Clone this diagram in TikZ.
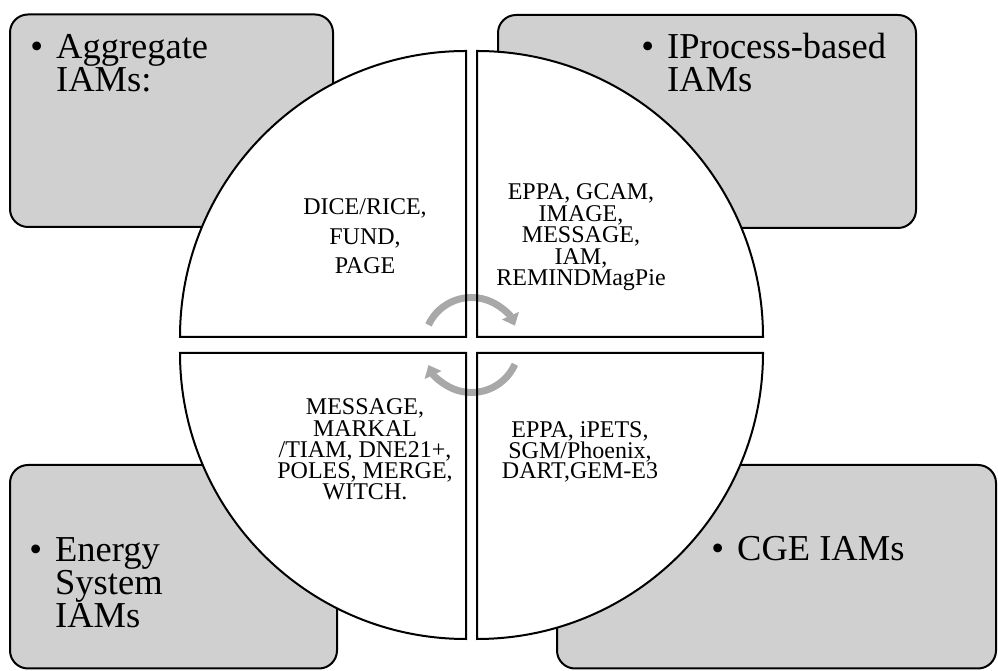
\documentclass[tikz,border=0pt]{standalone}
\usepackage{fontspec}
\setmainfont{Liberation Serif}
\usetikzlibrary{arrows.meta}
\definecolor{boxgray}{RGB}{208,208,208}
\definecolor{arrowgray}{RGB}{168,168,168}
\tikzset{
  catbox/.style={draw, line width=2pt, fill=boxgray, rounded corners=18pt},
  sliceline/.style={draw, line width=2pt, line join=miter},
  catlabel/.style={anchor=base west, align=left, inner sep=0pt, font=\fontsize{36.5}{33}\selectfont},
  modlist/.style={anchor=base, align=center, inner sep=0pt},
  cyclearrow/.style={draw=arrowgray, line width=7pt, -{Triangle[length=11pt,width=18pt]}}
}
\newcommand{\bul}{\textbullet\hspace{13pt}}
\begin{document}
\begin{tikzpicture}[x=1pt,y=1pt]
\useasboundingbox (0,0) rectangle (998,671);
% category boxes
\draw[catbox] (10,444) rectangle (333,656.5);
\draw[catbox] (498,443) rectangle (916,656);
\draw[catbox] (10,2.5) rectangle (337,206);
\draw[catbox] (557,2.5) rectangle (996,206);
% pie quarters
\coordinate (hub) at (471.5,326);
\coordinate (qa) at (466,334);
\coordinate (qb) at (477,334);
\coordinate (qc) at (466,318);
\coordinate (qd) at (477,318);
\foreach \c/\a in {qa/90, qb/0, qc/180, qd/270}
  \fill[white] (\c) -- ++(\a:286) arc[start angle=\a, delta angle=90, radius=286] -- cycle;
% cycle arrows
\draw[cyclearrow] (hub) ++(155:47.5) arc[start angle=155, end angle=24, radius=47.5];
\draw[cyclearrow] (hub) ++(-24:47.5) arc[start angle=-24, end angle=-155, radius=47.5];
\foreach \c/\a in {qa/90, qb/0, qc/180, qd/270}
  \draw[sliceline] (\c) -- ++(\a:286) arc[start angle=\a, delta angle=90, radius=286] -- cycle;
% labels (base = last line)
\node[catlabel] (agg) at (30.2,579) {\bul Aggregate\\\phantom{\bul}IAMs:};
\node[catlabel] (proc) at (641.2,579) {\bul IProcess-based\\\phantom{\bul}IAMs};
\node[catlabel] (ener) at (29.2,43) {\bul Energy\\\phantom{\bul}System\\\phantom{\bul}IAMs};
\node[catlabel] (cge) at (711.2,110) {\bul CGE IAMs};
\node[modlist, font=\fontsize{24}{29.5}\selectfont] (aggmods) at (365,397) {DICE/RICE,\\FUND,\\PAGE};
\node[modlist, font=\fontsize{24}{21.5}\selectfont] (procmods) at (581,385) {EPPA, GCAM,\\IMAGE,\\MESSAGE,\\IAM,\\REMINDMagPie};
\node[modlist, font=\fontsize{24}{21.25}\selectfont] (enermods) at (365,171) {MESSAGE,\\MARKAL\\/TIAM, DNE21+,\\POLES, MERGE,\\WITCH.};
\node[modlist, font=\fontsize{24}{20}\selectfont] (cgemods) at (580,192) {EPPA, iPETS,\\SGM/Phoenix,\\DART,GEM-E3};
\end{tikzpicture}
\end{document}
